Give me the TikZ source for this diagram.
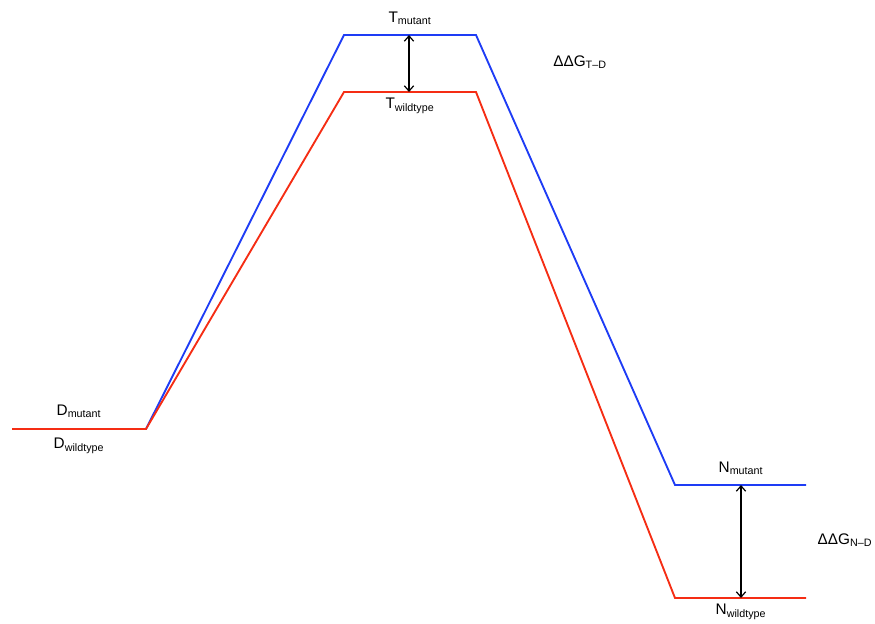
\documentclass[tikz,border=0pt]{standalone}
\usepackage{fontspec}
\setmainfont{Liberation Sans}
\usetikzlibrary{arrows.meta}
\definecolor{mutblue}{RGB}{30,60,245}
\definecolor{wildred}{RGB}{245,45,20}
\tikzset{level/.style={line width=1.4pt, line join=miter},
    lab/.style={font=\fontsize{11.5}{13}\selectfont, inner sep=0pt},
    gap/.style={line width=0.9pt, {Straight Barb[length=4pt,width=7pt]}-{Straight Barb[length=4pt,width=7pt]}}}

\begin{document}
\begin{tikzpicture}[x=0.75pt, y=-0.75pt]
    \useasboundingbox (0,0) rectangle (875,624);

    %Punkte
    \coordinate (d0) at (12,429);
    \coordinate (d1) at (146,429);
    \coordinate (tm0) at (344,35);
    \coordinate (tm1) at (476,35);
    \coordinate (tw0) at (344,92);
    \coordinate (tw1) at (476,92);
    \coordinate (nm0) at (675,485);
    \coordinate (nm1) at (806,485);
    \coordinate (nw0) at (675,598);
    \coordinate (nw1) at (806,598);
    \coordinate (tatop) at (409,35);
    \coordinate (tabot) at (409,92);
    \coordinate (natop) at (741,485);
    \coordinate (nabot) at (741,598);

    %Profile
    \draw[level, mutblue] (d0) -- (d1) -- (tm0) -- (tm1) -- (nm0) -- (nm1);
    \draw[level, wildred] (d0) -- (d1) -- (tw0) -- (tw1) -- (nw0) -- (nw1);

    %Pfeile
    \draw[gap] (tatop) -- (tabot);
    \draw[gap] (natop) -- (nabot);

    %Beschriftung
    \node[lab] (dmut) at (79,411) {D\textsubscript{mutant}};
    \node[lab] (dwild) at (79,446) {D\textsubscript{wildtype}};
    \node[lab] (tmut) at (410,18) {T\textsubscript{mutant}};
    \node[lab] (twild) at (410,106) {T\textsubscript{wildtype}};
    \node[lab] (nmut) at (741,468) {N\textsubscript{mutant}};
    \node[lab] (nwild) at (741,612) {N\textsubscript{wildtype}};
    \node[lab] (ddgt) at (580,62) {ΔΔG\textsubscript{T–D}};
    \node[lab] (ddgn) at (845,540) {ΔΔG\textsubscript{N–D}};

\end{tikzpicture}
\end{document}
